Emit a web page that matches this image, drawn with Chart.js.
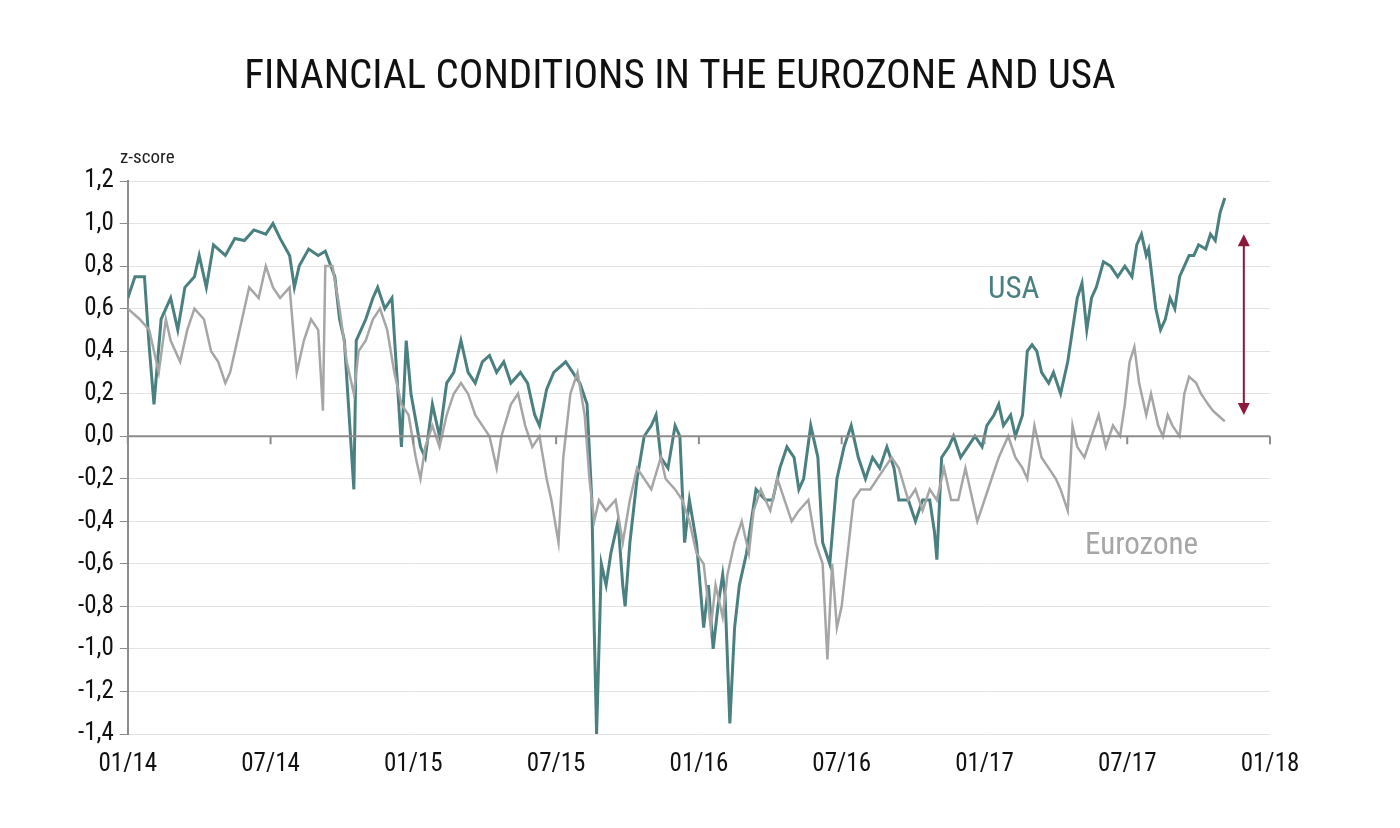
<!DOCTYPE html>
<html><head><meta charset="utf-8">
<script src="https://cdn.jsdelivr.net/npm/chart.js@4"></script>
<style>html,body{margin:0;background:#fff}#w{width:1400px;height:828px}</style></head>
<body><div id="w"><canvas id="c"></canvas></div>
<script>
const titleText = "FINANCIAL CONDITIONS IN THE EUROZONE AND USA";
const xTickLabels = ["01/14","07/14","01/15","07/15","01/16","07/16","01/17","07/17","01/18"]; // every 6 months from 0
const usaMonths = [0.0,0.3,0.7,0.9,1.1,1.4,1.8,2.1,2.4,2.8,3.0,3.3,3.6,4.1,4.5,4.9,5.3,5.8,6.1,6.4,6.8,7.0,7.2,7.6,8.0,8.3,8.7,8.9,9.1,9.3,9.5,9.6,10.0,10.3,10.5,10.8,11.1,11.3,11.5,11.7,11.9,12.3,12.5,12.8,13.1,13.4,13.7,14.0,14.3,14.6,14.9,15.2,15.5,15.8,16.1,16.5,16.8,17.1,17.3,17.6,17.9,18.4,18.7,19.0,19.3,19.5,19.6,19.7,19.9,20.1,20.3,20.6,20.8,20.9,21.1,21.4,21.7,22.0,22.2,22.4,22.7,23.0,23.2,23.4,23.6,23.9,24.2,24.4,24.6,24.8,25.0,25.1,25.3,25.5,25.7,26.0,26.2,26.4,26.8,27.1,27.4,27.7,28.0,28.2,28.4,28.7,29.0,29.2,29.5,29.8,30.1,30.4,30.7,31.0,31.3,31.6,31.9,32.2,32.4,32.8,33.1,33.4,33.7,33.9,34.0,34.2,34.5,34.7,35.0,35.3,35.6,35.9,36.1,36.4,36.6,36.8,37.1,37.3,37.6,37.8,38.0,38.2,38.4,38.7,38.9,39.2,39.5,39.7,39.9,40.1,40.3,40.5,40.7,41.0,41.3,41.6,41.9,42.2,42.4,42.6,42.8,42.9,43.2,43.4,43.6,43.8,44.0,44.2,44.4,44.6,44.8,45.0,45.3,45.5,45.7,45.9,46.1];
const usaValues = [0.65,0.75,0.75,0.42,0.15,0.55,0.65,0.5,0.7,0.75,0.85,0.7,0.9,0.85,0.93,0.92,0.97,0.95,1.0,0.93,0.85,0.7,0.8,0.88,0.85,0.87,0.75,0.55,0.45,0.1,-0.25,0.45,0.55,0.65,0.7,0.6,0.65,0.3,-0.05,0.45,0.2,-0.05,-0.1,0.15,0.0,0.25,0.3,0.45,0.3,0.25,0.35,0.38,0.3,0.35,0.25,0.3,0.25,0.1,0.05,0.22,0.3,0.35,0.3,0.25,0.15,-0.3,-0.9,-1.4,-0.6,-0.7,-0.55,-0.4,-0.7,-0.8,-0.5,-0.2,0.0,0.05,0.1,-0.1,-0.15,0.05,0.0,-0.5,-0.3,-0.5,-0.9,-0.7,-1.0,-0.8,-0.65,-0.75,-1.35,-0.9,-0.7,-0.55,-0.4,-0.25,-0.3,-0.3,-0.15,-0.05,-0.1,-0.25,-0.2,0.05,-0.1,-0.5,-0.6,-0.2,-0.05,0.05,-0.1,-0.2,-0.1,-0.15,-0.05,-0.15,-0.3,-0.3,-0.4,-0.3,-0.3,-0.45,-0.58,-0.1,-0.05,0.0,-0.1,-0.05,0.0,-0.05,0.05,0.1,0.15,0.05,0.1,0.0,0.1,0.4,0.43,0.4,0.3,0.25,0.3,0.2,0.35,0.5,0.65,0.72,0.5,0.65,0.7,0.82,0.8,0.75,0.8,0.75,0.9,0.95,0.85,0.88,0.6,0.5,0.55,0.65,0.6,0.75,0.8,0.85,0.85,0.9,0.88,0.95,0.92,1.05,1.12];
const euroMonths = [0.0,0.5,0.9,1.3,1.6,1.8,2.2,2.5,2.8,3.2,3.5,3.8,4.1,4.3,4.5,4.8,5.1,5.5,5.8,6.1,6.4,6.8,7.1,7.4,7.7,8.0,8.2,8.3,8.6,8.9,9.2,9.5,9.7,10.0,10.3,10.6,10.9,11.2,11.5,11.8,12.1,12.3,12.5,12.8,13.1,13.4,13.7,14.0,14.3,14.6,14.9,15.2,15.5,15.7,16.1,16.4,16.7,17.0,17.3,17.6,17.8,18.1,18.3,18.6,18.9,19.2,19.4,19.6,19.8,20.1,20.5,20.8,21.1,21.4,21.7,22.0,22.4,22.6,23.0,23.3,23.6,23.9,24.2,24.5,24.7,25.0,25.2,25.5,25.8,26.1,26.3,26.6,27.0,27.3,27.6,27.9,28.2,28.6,28.9,29.2,29.4,29.6,29.8,30.0,30.3,30.5,30.8,31.2,31.5,31.8,32.1,32.4,32.8,33.1,33.4,33.7,34.0,34.3,34.6,34.9,35.2,35.5,35.7,36.0,36.3,36.6,37.0,37.3,37.6,37.8,38.1,38.4,38.7,39.0,39.2,39.5,39.7,39.9,40.2,40.5,40.8,41.1,41.4,41.7,41.9,42.1,42.3,42.5,42.8,43.0,43.3,43.5,43.7,43.9,44.2,44.4,44.6,44.9,45.1,45.4,45.6,45.8,46.1];
const euroValues = [0.6,0.55,0.5,0.3,0.55,0.45,0.35,0.5,0.6,0.55,0.4,0.35,0.25,0.3,0.4,0.55,0.7,0.65,0.8,0.7,0.65,0.7,0.3,0.45,0.55,0.5,0.12,0.8,0.8,0.6,0.35,0.2,0.4,0.45,0.55,0.6,0.5,0.3,0.15,0.1,-0.1,-0.2,-0.05,0.05,-0.05,0.1,0.2,0.25,0.2,0.1,0.05,0.0,-0.15,0.0,0.15,0.2,0.05,-0.05,0.0,-0.2,-0.3,-0.5,-0.1,0.2,0.3,0.1,-0.2,-0.4,-0.3,-0.35,-0.3,-0.5,-0.3,-0.15,-0.2,-0.25,-0.1,-0.2,-0.25,-0.3,-0.4,-0.55,-0.6,-0.9,-0.7,-0.85,-0.65,-0.5,-0.4,-0.55,-0.35,-0.25,-0.35,-0.2,-0.3,-0.4,-0.35,-0.3,-0.5,-0.6,-1.05,-0.6,-0.9,-0.8,-0.5,-0.3,-0.25,-0.25,-0.2,-0.15,-0.1,-0.15,-0.3,-0.25,-0.35,-0.25,-0.3,-0.15,-0.3,-0.3,-0.15,-0.3,-0.4,-0.3,-0.2,-0.1,0.0,-0.1,-0.15,-0.2,0.05,-0.1,-0.15,-0.2,-0.25,-0.35,0.05,-0.05,-0.1,0.0,0.1,-0.05,0.05,0.0,0.15,0.35,0.42,0.25,0.1,0.2,0.05,0.0,0.1,0.05,0.0,0.2,0.28,0.25,0.2,0.15,0.12,0.1,0.07];
const arrowMonth = 46.9, arrowTop = 0.95, arrowBottom = 0.1;

const FONT = "'Liberation Sans Narrow','Roboto Condensed','Liberation Sans',sans-serif";
const toXY = (ms, vs) => ms.map((m, i) => ({x: m, y: vs[i]}));

const deco = {
  id: 'deco',
  afterDraw(ch) {
    const c = ch.ctx, x = ch.scales.x, y = ch.scales.y;
    c.save();
    const y0 = y.getPixelForValue(0);
    c.strokeStyle = '#8c8c8c'; c.lineWidth = 2;
    c.beginPath(); c.moveTo(x.left, y0); c.lineTo(x.right, y0); c.stroke();
    for (let m = 0; m <= 48; m += 6) {
      const px = x.getPixelForValue(m);
      c.beginPath(); c.moveTo(px, y0); c.lineTo(px, y0 + 8); c.stroke();
    }
    c.fillStyle = '#111'; c.textAlign = 'center'; c.textBaseline = 'middle';
    c.font = '41px ' + FONT;
    c.fillText(titleText, 680, 78);
    c.font = '19px ' + FONT; c.textAlign = 'left'; c.fillStyle = '#222';
    c.fillText('z-score', 120, 158);
    c.font = '31px ' + FONT;
    c.fillStyle = '#4a807f'; c.fillText('USA', 988, 290);
    c.fillStyle = '#a6a6a6'; c.fillText('Eurozone', 1085, 546);
    const ax = x.getPixelForValue(arrowMonth), at = y.getPixelForValue(arrowTop), ab = y.getPixelForValue(arrowBottom);
    c.strokeStyle = '#8b1a3a'; c.fillStyle = '#8b1a3a'; c.lineWidth = 2;
    c.beginPath(); c.moveTo(ax, at + 8); c.lineTo(ax, ab - 8); c.stroke();
    c.beginPath(); c.moveTo(ax, at); c.lineTo(ax - 6, at + 12); c.lineTo(ax + 6, at + 12); c.closePath(); c.fill();
    c.beginPath(); c.moveTo(ax, ab); c.lineTo(ax - 6, ab - 12); c.lineTo(ax + 6, ab - 12); c.closePath(); c.fill();
    c.restore();
  }
};

new Chart(document.getElementById('c'), {
  type: 'line',
  data: { datasets: [
    { label: 'Eurozone', data: toXY(euroMonths, euroValues), borderColor: '#a6a6a6', borderWidth: 2.5, pointRadius: 0, tension: 0 },
    { label: 'USA', data: toXY(usaMonths, usaValues), borderColor: '#4a807f', borderWidth: 3, pointRadius: 0, tension: 0 }
  ]},
  options: {
    responsive: true, maintainAspectRatio: false, animation: false,
    layout: { padding: { top: 181, left: 72, right: 130, bottom: 40 } },
    plugins: { legend: { display: false }, tooltip: { enabled: false } },
    scales: {
      x: { type: 'linear', min: 0, max: 48,
        grid: { display: false }, border: { display: false },
        afterBuildTicks: s => { s.ticks = xTickLabels.map((_, i) => ({ value: i * 6 })); },
        ticks: { color: '#111', font: { family: FONT, size: 25 }, padding: 8, maxRotation: 0,
          callback: v => xTickLabels[v / 6] } },
      y: { min: -1.4, max: 1.2,
        grid: { color: '#e3e3e3', lineWidth: 1, drawTicks: true, tickLength: 8, tickColor: '#8c8c8c' },
        border: { display: true, color: '#8c8c8c', width: 2 },
        ticks: { stepSize: 0.2, color: '#111', font: { family: FONT, size: 25 }, padding: 6,
          callback: v => v.toFixed(1).replace('.', ',').replace('-0,0','0,0') } }
    }
  },
  plugins: [deco]
});
</script></body></html>
